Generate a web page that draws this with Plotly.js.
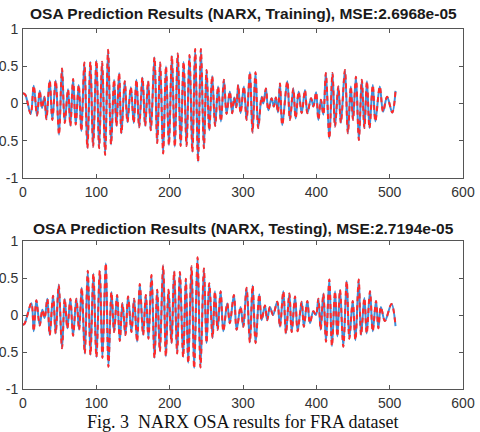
<!DOCTYPE html>
<html>
<head>
<meta charset="utf-8">
<script src="https://cdn.plot.ly/plotly-3.0.1.min.js"></script>
<style>
  html, body { margin: 0; padding: 0; background: #ffffff; }
  #chart { width: 480px; height: 432px; }
</style>
</head>
<body>
<div id="chart"></div>
<script>
// Sample index / value of each turning point of the FRA signal (training set)
const trainIdx = [0, 3, 10.5, 14.6, 19.1, 22.8, 25.9, 29.1, 31.9, 36.4, 40, 44.6, 49.1, 53.2, 56.9, 61.4, 64.6, 68.3, 71.9, 76,
  79.6, 83.7, 87.8, 91.9, 95.6, 100.1, 103.8, 107.9, 112, 116, 120.1, 124.2, 127.4, 131.1, 134.2, 138.8, 142.4, 147, 151, 154.7,
  158.4, 162.9, 166.6, 170.6, 174.3, 179.3, 183, 187, 191.1, 195, 199, 203, 207, 211, 215, 219, 223, 227, 231, 234.8,
  238.7, 242.6, 246.7, 250.3, 254, 258, 262, 266, 269.9, 274, 277.6, 282, 285.3, 288, 290.8, 293.5, 296.7, 301.2, 304.9, 309.4,
  313, 317, 320.8, 325.4, 327.7, 331.3, 334.5, 339, 342, 344.8, 347.6, 350.4, 353.5, 360.4, 364, 368.6, 371.8, 375.9, 380, 384.5,
  387.8, 392.8, 396, 399.7, 402.8, 406.2, 409.6, 413, 417.7, 422, 425.5, 430, 433.5, 439, 443, 447, 450, 454, 458, 462,
  465.5, 469, 472.5, 477, 480.5, 486.5, 491, 496.5, 503.5, 508];
const trainVal = [0.14, 0.12, -0.14, 0.24, -0.16, 0.17, -0.06, 0.09, -0.21, 0.31, -0.22, 0.31, -0.42, 0.47, -0.26, 0.19, -0.30, 0.33, -0.28, 0.25,
  -0.37, 0.55, -0.60, 0.56, -0.58, 0.58, -0.60, 0.56, -0.69, 0.72, -0.55, 0.32, -0.30, 0.41, -0.40, 0.30, -0.25, 0.22, -0.26, 0.32,
  -0.32, 0.35, -0.30, 0.30, -0.36, 0.62, -0.53, 0.55, -0.67, 0.50, -0.56, 0.64, -0.58, 0.67, -0.57, 0.56, -0.57, 0.65, -0.65, 0.73,
  -0.78, 0.73, -0.60, 0.45, -0.36, 0.37, -0.30, 0.23, -0.24, 0.32, -0.14, 0.16, -0.13, 0.08, -0.05, 0.25, -0.13, 0.23, -0.22, 0.42,
  -0.39, 0.42, -0.33, 0.09, 0.00, 0.20, -0.09, 0.07, -0.04, 0.08, -0.12, 0.27, -0.29, 0.30, -0.22, 0.20, -0.20, 0.16, -0.13, 0.18,
  -0.13, 0.07, -0.04, 0.15, -0.22, 0.05, -0.15, 0.41, -0.47, 0.41, -0.31, 0.23, -0.26, 0.45, -0.40, 0.23, -0.22, 0.36, -0.49, 0.32,
  -0.33, 0.30, -0.33, 0.25, -0.24, 0.23, -0.11, 0.09, -0.12, 0.17];

// Turning points of the testing set
const testIdx = [0, 2, 11.4, 14.6, 18.2, 22.8, 26.4, 29.5, 33.2, 36.4, 41, 44.6, 48.7, 53.2, 56.9, 60.5, 64.6, 68.3, 72.8, 76.5,
  80.1, 84.2, 88.3, 92, 96, 100.1, 104.7, 108.3, 112.9, 116.5, 120.6, 124.2, 128.3, 132, 135.6, 139.7, 143.3, 147.9, 151.5, 155.6,
  159.3, 163.8, 167.5, 171.1, 175.2, 179.3, 183, 186.6, 191.1, 194.8, 198.4, 202.5, 206.1, 210.2, 213.9, 218.4, 222.1, 225.3, 229.8, 233.4,
  238, 242, 246.7, 250.3, 254, 258.5, 261.7, 265.4, 269.5, 273.2, 278.5, 282, 287.6, 291.3, 296.7, 300.4, 304.9, 309.4, 313.1, 317.2,
  322.2, 325.4, 329.9, 333, 336.7, 341, 346.7, 350.4, 355, 358.6, 363.2, 366.4, 371, 374.5, 380, 383, 387.7, 391.3, 395.9, 399.5,
  402.8, 405.9, 409.6, 413.2, 417.7, 421.3, 425.5, 428.7, 432.3, 436.8, 441.4, 445, 449.6, 453.3, 457.8, 461, 465.5, 468.7, 473.2, 476.9,
  481.4, 484.6, 488, 493.5, 502.5, 508];
const testVal = [-0.13, -0.12, 0.16, -0.22, 0.20, -0.14, 0.07, -0.04, 0.22, -0.27, 0.26, -0.25, 0.41, -0.45, 0.22, -0.18, 0.22, -0.28, 0.22, -0.20,
  0.37, -0.52, 0.60, -0.54, 0.56, -0.57, 0.60, -0.58, 0.70, -0.70, 0.31, -0.23, 0.27, -0.35, 0.16, -0.27, 0.25, -0.23, 0.22, -0.36,
  0.42, -0.27, 0.27, -0.32, 0.54, -0.58, 0.34, -0.49, 0.67, -0.56, 0.34, -0.38, 0.59, -0.52, 0.58, -0.57, 0.49, -0.65, 0.66, -0.72,
  0.78, -0.71, 0.63, -0.38, 0.43, -0.31, 0.32, -0.20, 0.32, -0.22, 0.16, -0.11, 0.27, -0.20, 0.11, -0.16, 0.37, -0.37, 0.40, -0.38,
  0.28, -0.07, 0.13, -0.07, 0.11, 0.00, 0.18, -0.16, 0.32, -0.25, 0.29, -0.23, 0.25, -0.22, 0.18, -0.16, 0.19, -0.11, 0.05, 0.00,
  0.22, -0.20, 0.29, -0.36, 0.48, -0.42, 0.32, -0.29, 0.34, -0.43, 0.46, -0.32, 0.19, -0.34, 0.48, -0.27, 0.23, -0.25, 0.32, -0.22,
  0.19, -0.18, 0.11, -0.08, 0.15, -0.15];

const titles = [
  'OSA Prediction Results (NARX, Training), MSE:2.6968e-05',
  'OSA Prediction Results (NARX, Testing), MSE:2.7194e-05'
];
const xTicks = [0, 100, 200, 300, 400, 500, 600];
const yTicks = [-1, -0.5, 0, 0.5, 1];
const caption = 'Fig. 3  NARX OSA results for FRA dataset';

const BLUE = '#3f8fd8';
const RED = '#ff2a2a';

function pair(x, y, xa, ya) {
  return [
    { x: x, y: y, xaxis: xa, yaxis: ya, type: 'scatter', mode: 'lines',
      line: { color: BLUE, width: 2, shape: 'spline', smoothing: 1 }, hoverinfo: 'skip' },
    { x: x, y: y, xaxis: xa, yaxis: ya, type: 'scatter', mode: 'lines',
      line: { color: RED, width: 2, shape: 'spline', smoothing: 1, dash: '5px,4px' }, hoverinfo: 'skip' }
  ];
}

const data = [].concat(
  pair(trainIdx, trainVal, 'x', 'y'),
  pair(testIdx, testVal, 'x2', 'y2')
);

const tickFont = { family: 'Arial, "Liberation Sans", sans-serif', size: 14, color: '#333333' };

function xAxis(anchor) {
  return {
    domain: [0, 1], anchor: anchor, range: [0, 600],
    tickvals: xTicks, ticktext: xTicks.map(String),
    ticks: 'inside', ticklen: 4, tickcolor: '#555555', tickwidth: 1,
    showline: true, linecolor: '#555555', linewidth: 1, mirror: 'ticks',
    showgrid: false, zeroline: false, tickfont: tickFont, ticklabelstandoff: 1
  };
}
function yAxis(anchor, domain) {
  return {
    domain: domain, anchor: anchor, range: [-1, 1],
    tickvals: yTicks, ticktext: yTicks.map(String),
    ticks: 'inside', ticklen: 4, tickcolor: '#555555', tickwidth: 1,
    showline: true, linecolor: '#555555', linewidth: 1, mirror: 'ticks',
    showgrid: false, zeroline: false, tickfont: tickFont, ticklabelstandoff: 1
  };
}

const titleFont = { family: 'Arial, "Liberation Sans", sans-serif', size: 15.5, color: '#1a1a1a', weight: 'bold' };

const layout = {
  width: 480, height: 432,
  margin: { l: 23, r: 17, t: 29, b: 43, pad: 0 },
  paper_bgcolor: '#ffffff', plot_bgcolor: '#ffffff',
  showlegend: false,
  xaxis: xAxis('y'),
  yaxis: yAxis('x', [0.586, 1]),
  xaxis2: xAxis('y2'),
  yaxis2: yAxis('x2', [0, 0.411]),
  annotations: [
    { text: titles[0], xref: 'paper', yref: 'paper', x: 0.5, y: 1.042, xanchor: 'center', yanchor: 'middle',
      showarrow: false, font: titleFont },
    { text: titles[1], xref: 'paper', yref: 'paper', x: 0.5, y: 0.447, xanchor: 'center', yanchor: 'middle',
      showarrow: false, font: titleFont },
    { text: caption, xref: 'paper', yref: 'paper', x: 0.5, y: -0.092, xanchor: 'center', yanchor: 'middle',
      showarrow: false, font: { family: '"Liberation Serif", "Times New Roman", serif', size: 18, color: '#111111' } }
  ]
};

Plotly.newPlot('chart', data, layout, { staticPlot: true, displayModeBar: false });
</script>
</body>
</html>
